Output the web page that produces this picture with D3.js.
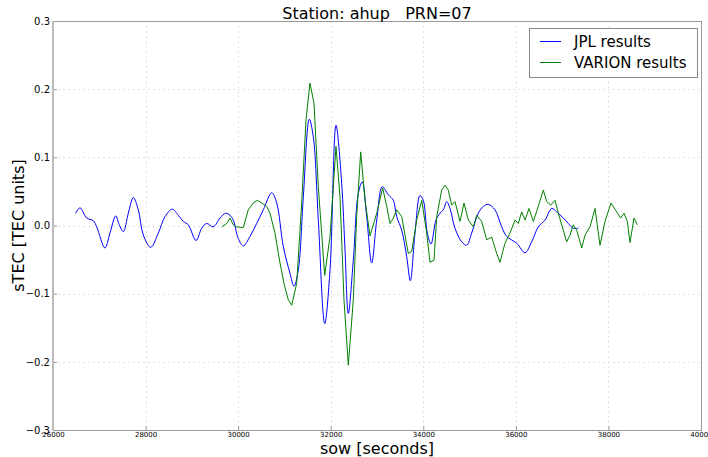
<!DOCTYPE html>
<html>
<head>
<meta charset="utf-8">
<script src="https://cdn.jsdelivr.net/npm/d3@7"></script>
<style>
  body { margin: 0; background: #fff; }
  text { font-family: "DejaVu Sans", sans-serif; fill: #000; }
</style>
</head>
<body>
<div id="chart"></div>
<script>
// JPL results (blue)
var jplSow = [26490, 26583, 26728, 26871, 26944, 27123, 27231, 27355, 27432, 27519,
  27627, 27735, 27843, 27951, 28111, 28275, 28420, 28577, 28707, 28815,
  28923, 29090, 29213, 29321, 29463, 29608, 29731, 29824, 29895, 30003,
  30111, 30256, 30401, 30544, 30725, 30833, 30976, 31120, 31207, 31300,
  31408, 31537, 31624, 31732, 31870, 31985, 32114, 32237, 32309, 32380,
  32488, 32596, 32682, 32777, 32886, 32994, 33115, 33244, 33352, 33426,
  33534, 33642, 33720, 33821, 33929, 34000, 34087, 34167, 34275, 34361,
  34432, 34506, 34577, 34685, 34830, 34938, 35046, 35189, 35297, 35405,
  35549, 35694, 35802, 36018, 36198, 36342, 36485, 36630, 36775, 36882,
  37025, 37133, 37241, 37349];
var jplTec = [0.018, 0.026, 0.011, 0.007, -0.002, -0.033, -0.011, 0.014, 0.001, -0.009,
  0.018, 0.041, 0.023, -0.014, -0.032, -0.011, 0.013, 0.024, 0.015, 0.006,
  0.001, -0.022, -0.004, 0.003, -0.002, 0.011, 0.018, 0.015, 0.008, -0.019,
  -0.030, -0.016, 0.003, 0.023, 0.048, 0.033, -0.031, -0.070, -0.089, -0.065,
  0.042, 0.156, 0.130, 0.008, -0.144, -0.065, 0.147, 0.062, -0.036, -0.129,
  -0.051, 0.047, 0.064, 0.013, -0.055, 0.008, 0.057, 0.045, 0.037, 0.013,
  -0.007, -0.046, -0.081, -0.011, 0.044, 0.037, -0.011, -0.027, 0.008, 0.018,
  0.023, 0.035, 0.025, -0.004, -0.024, -0.029, -0.011, 0.018, 0.028, 0.031,
  0.023, -0.002, -0.016, -0.026, -0.040, -0.024, -0.002, 0.008, 0.025, 0.020,
  0.011, 0.003, -0.004, -0.004];

// VARION results (green)
var varSow = [29645, 29753, 29824, 29895, 29969, 30111, 30219, 30327, 30414, 30509,
  30617, 30688, 30796, 30904, 30997, 31084, 31157, 31265, 31373, 31466,
  31552, 31639, 31732, 31870, 31985, 32114, 32201, 32287, 32380, 32488,
  32561, 32648, 32741, 32849, 32994, 33123, 33210, 33281, 33352, 33426,
  33534, 33676, 33750, 33858, 33966, 34074, 34145, 34232, 34290, 34398,
  34469, 34540, 34614, 34685, 34793, 34880, 34973, 35081, 35154, 35262,
  35370, 35478, 35586, 35657, 35765, 35873, 35982, 36053, 36126, 36198,
  36284, 36377, 36485, 36593, 36666, 36753, 36846, 36917, 37012, 37098,
  37170, 37241, 37315, 37423, 37494, 37602, 37710, 37818, 37926, 38056,
  38179, 38265, 38336, 38408, 38466, 38553, 38624];
var varTec = [-0.002, 0.003, 0.011, 0.001, -0.002, -0.003, 0.023, 0.033, 0.037, 0.033,
  0.028, 0.018, -0.011, -0.055, -0.087, -0.109, -0.117, -0.085, 0.033, 0.155,
  0.209, 0.179, 0.057, -0.073, -0.016, 0.116, 0.042, -0.109, -0.205, -0.109,
  0.013, 0.108, 0.037, -0.015, 0.018, 0.055, 0.028, 0.003, 0.011, 0.023,
  0.013, -0.041, -0.038, 0.008, 0.037, -0.011, -0.054, -0.051, 0.013, 0.052,
  0.059, 0.052, 0.030, 0.035, 0.006, 0.033, 0.008, -0.002, 0.015, 0.006,
  -0.021, -0.017, -0.041, -0.054, -0.026, -0.011, 0.008, 0.003, 0.020, 0.008,
  0.025, 0.006, 0.028, 0.052, 0.035, 0.030, 0.037, 0.018, -0.004, -0.024,
  -0.014, 0.001, -0.007, -0.033, -0.014, -0.002, 0.025, -0.029, 0.006, 0.033,
  0.020, 0.011, 0.018, 0.006, -0.025, 0.011, 0.001];

var xTicks = [26000, 28000, 30000, 32000, 34000, 36000, 38000, 40000];
var yTicks = [-0.3, -0.2, -0.1, 0.0, 0.1, 0.2, 0.3];
var seriesNames = ["JPL results", "VARION results"];
var seriesColors = ["#0000ff", "#008000"];

var width = 708, height = 457;
var margin = {top: 21, right: 7, bottom: 27, left: 53},
    innerW = width - margin.left - margin.right,
    innerH = height - margin.top - margin.bottom;

var xScale = d3.scaleLinear().domain([26000, 40000]).range([0, innerW]),
    yScale = d3.scaleLinear().domain([-0.3, 0.3]).range([innerH, 0]);

var svg = d3.select("#chart").append("svg")
    .attr("width", width)
    .attr("height", height);

var g = svg.append("g")
    .attr("transform", "translate(" + margin.left + "," + margin.top + ")");

// grid (light dashed)
g.append("g").selectAll("line").data(xTicks.slice(1, -1)).enter().append("line")
    .attr("x1", function(d) { return Math.round(xScale(d)) + 0.5; })
    .attr("x2", function(d) { return Math.round(xScale(d)) + 0.5; })
    .attr("y1", 0).attr("y2", innerH)
    .attr("stroke", "#e2e2e2").attr("stroke-dasharray", "2,3");
g.append("g").selectAll("line").data(yTicks.slice(1, -1)).enter().append("line")
    .attr("y1", function(d) { return Math.round(yScale(d)) + 0.5; })
    .attr("y2", function(d) { return Math.round(yScale(d)) + 0.5; })
    .attr("x1", 0).attr("x2", innerW)
    .attr("stroke", "#e2e2e2").attr("stroke-dasharray", "2,3");

// axes (ticks drawn inward)
var xAxis = d3.axisBottom(xScale).tickValues(xTicks).tickSizeInner(-4).tickSizeOuter(0)
    .tickFormat(d3.format("d"));
var yAxis = d3.axisLeft(yScale).tickValues(yTicks).tickSizeInner(-4).tickSizeOuter(0)
    .tickFormat(function(d) { return d3.format(".1f")(d).replace("-", "\u2212"); });

var gx = g.append("g").attr("transform", "translate(0," + innerH + ")").call(xAxis);
gx.selectAll("text").attr("font-size", 7).attr("y", 1).attr("dy", "0.8em")
    .attr("font-family", "'DejaVu Sans Condensed', 'DejaVu Sans', sans-serif");
var gy = g.append("g").call(yAxis);
gy.selectAll("text").attr("font-size", 10).attr("x", -3);
[gx, gy].forEach(function(a) {
  a.select(".domain").remove();
  a.selectAll("line").attr("stroke", "#999");
});

// data lines
var line = d3.line()
    .x(function(d) { return xScale(d[0]); })
    .y(function(d) { return yScale(d[1]); });

g.append("path")
    .datum(jplSow.map(function(s, i) { return [s, jplTec[i]]; }))
    .attr("fill", "none").attr("stroke", seriesColors[0]).attr("stroke-width", 1)
    .attr("d", line.curve(d3.curveCatmullRom.alpha(0.5)));

g.append("path")
    .datum(varSow.map(function(s, i) { return [s, varTec[i]]; }))
    .attr("fill", "none").attr("stroke", seriesColors[1]).attr("stroke-width", 1)
    .attr("d", line.curve(d3.curveLinear));

// frame
g.append("rect")
    .attr("x", 0.5).attr("y", 0.5).attr("width", innerW).attr("height", innerH)
    .attr("fill", "none").attr("stroke", "#999");
g.append("line").attr("x1", 0).attr("x2", 0).attr("y1", 0).attr("y2", innerH + 1)
    .attr("stroke", "#bbb").attr("stroke-width", 2);

// title and axis labels
svg.append("text")
    .attr("x", margin.left + innerW / 2).attr("y", 19)
    .attr("text-anchor", "middle").attr("font-size", 16)
    .style("white-space", "pre")
    .text("Station: ahup   PRN=07");
svg.append("text")
    .attr("x", margin.left + innerW / 2).attr("y", 454)
    .attr("text-anchor", "middle").attr("font-size", 16)
    .text("sow [seconds]");
svg.append("text")
    .attr("transform", "translate(24," + (margin.top + innerH / 2) + ") rotate(-90)")
    .attr("text-anchor", "middle").attr("font-size", 16)
    .text("sTEC [TEC units]");

// legend
var legend = svg.append("g").attr("transform", "translate(529,28)");
legend.append("rect")
    .attr("x", 0.5).attr("y", 0.5).attr("width", 168).attr("height", 49)
    .attr("fill", "#fff").attr("stroke", "#888");
seriesNames.forEach(function(name, i) {
  var yy = 13.5 + i * 21;
  legend.append("line")
      .attr("x1", 11).attr("x2", 32).attr("y1", yy).attr("y2", yy)
      .attr("stroke", seriesColors[i]).attr("stroke-width", 1);
  legend.append("text")
      .attr("x", 45).attr("y", yy + 5.5).attr("font-size", 15)
      .text(name);
});
</script>
</body>
</html>
